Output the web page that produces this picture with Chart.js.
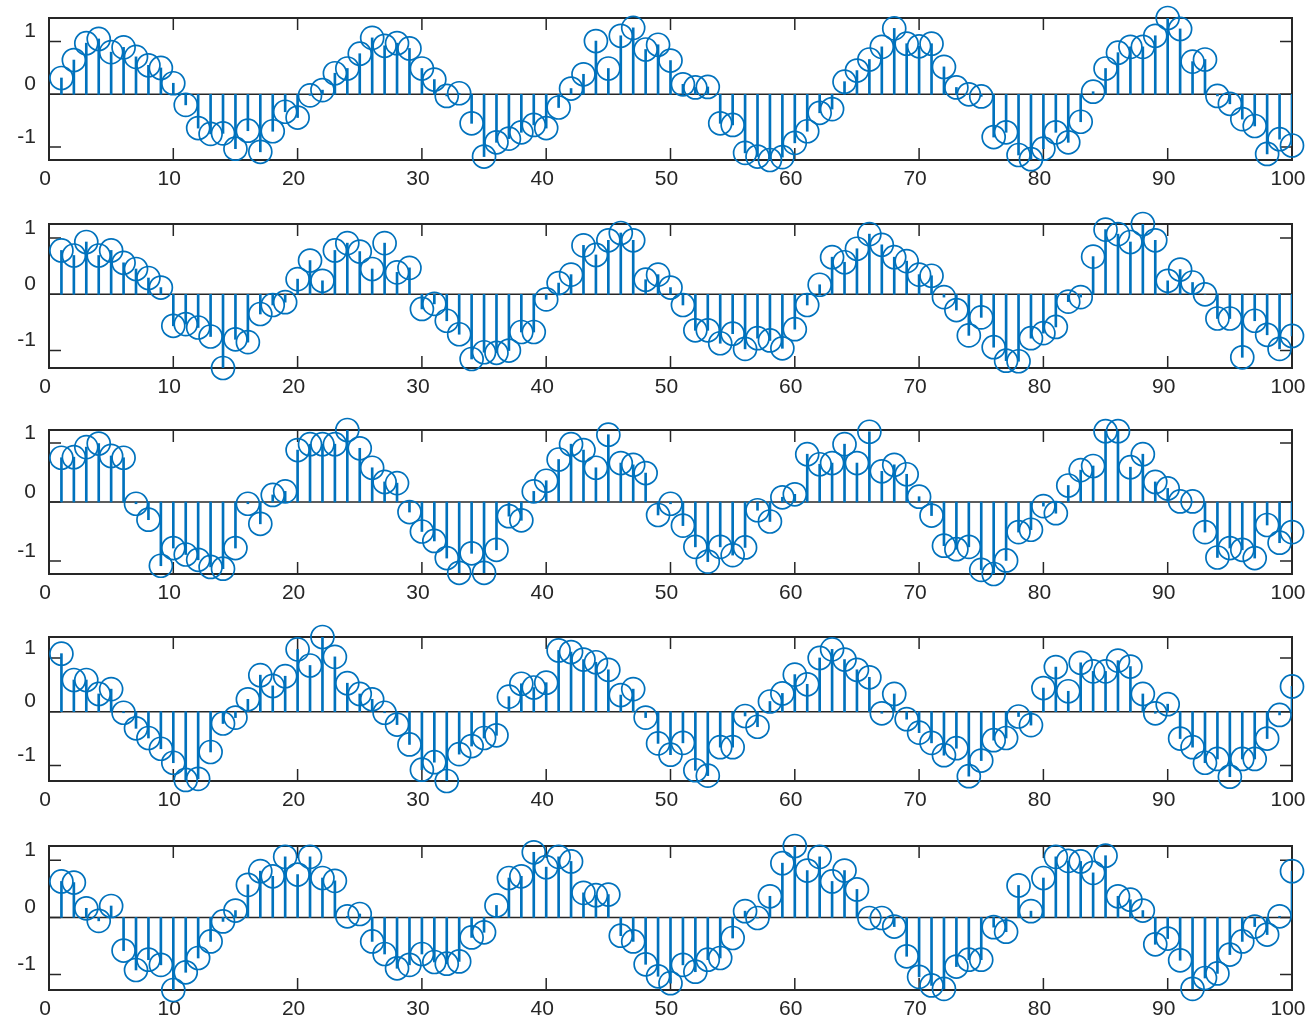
<!DOCTYPE html>
<html>
<head>
<meta charset="utf-8">
<script src="https://cdn.jsdelivr.net/npm/chart.js@4.4.1/dist/chart.umd.min.js"></script>
<style>
  body { margin: 0; background: #fff; }
  #wrap { position: relative; width: 1309px; height: 1022px; }
  .plot { position: absolute; left: 0; }
</style>
</head>
<body>
<div id="wrap"></div>
<script>
// sample index 1..100 (the x of every stem)
const xIndex = Array.from({ length: 100 }, (_, i) => i + 1);
const xTicks = [0, 10, 20, 30, 40, 50, 60, 70, 80, 90, 100];
const yTicks = [-1, 0, 1];

const series1 = [0.31, 0.65, 0.97, 1.05, 0.80, 0.89, 0.71, 0.55, 0.50, 0.21,
  -0.20, -0.64, -0.75, -0.74, -1.03, -0.69, -1.09, -0.70, -0.33, -0.44,
  -0.02, 0.08, 0.40, 0.49, 0.77, 1.07, 0.92, 0.97, 0.87, 0.49,
  0.28, -0.03, 0.02, -0.55, -1.18, -0.91, -0.84, -0.72, -0.58, -0.64,
  -0.25, 0.11, 0.38, 1.01, 0.49, 1.11, 1.26, 0.85, 0.94, 0.64,
  0.19, 0.13, 0.14, -0.55, -0.58, -1.11, -1.18, -1.245, -1.19, -0.92,
  -0.70, -0.35, -0.28, 0.24, 0.45, 0.66, 0.90, 1.25, 0.96, 0.91,
  0.96, 0.52, 0.13, 0.00, -0.04, -0.81, -0.72, -1.15, -1.23, -1.03,
  -0.72, -0.91, -0.52, 0.05, 0.49, 0.79, 0.90, 0.90, 1.11, 1.447,
  1.24, 0.62, 0.66, -0.03, -0.18, -0.47, -0.60, -1.13, -0.85, -0.97];

const series2 = [0.78, 0.69, 0.93, 0.69, 0.78, 0.56, 0.45, 0.29, 0.12, -0.56,
  -0.53, -0.59, -0.75, -1.31, -0.80, -0.85, -0.35, -0.19, -0.14, 0.27,
  0.60, 0.24, 0.78, 0.91, 0.76, 0.45, 0.91, 0.39, 0.47, -0.26,
  -0.17, -0.47, -0.71, -1.15, -1.03, -1.04, -1.00, -0.67, -0.67, -0.09,
  0.20, 0.35, 0.87, 0.70, 0.96, 1.09, 0.96, 0.26, 0.35, 0.12,
  -0.19, -0.64, -0.64, -0.87, -0.70, -0.97, -0.78, -0.82, -0.96, -0.62,
  -0.19, 0.17, 0.66, 0.57, 0.81, 1.07, 0.88, 0.66, 0.59, 0.35,
  0.33, -0.05, -0.28, -0.73, -0.41, -0.94, -1.18, -1.19, -0.78, -0.69,
  -0.58, -0.13, -0.05, 0.67, 1.15, 1.07, 0.93, 1.25, 0.96, 0.24,
  0.44, 0.21, 0.00, -0.43, -0.43, -1.12, -0.47, -0.72, -0.97, -0.74];

const series3 = [0.75, 0.76, 0.93, 0.99, 0.78, 0.75, -0.03, -0.30, -1.08, -0.78,
  -0.89, -0.98, -1.10, -1.13, -0.78, -0.03, -0.37, 0.12, 0.18, 0.88,
  0.98, 0.98, 0.98, 1.22, 0.91, 0.58, 0.34, 0.32, -0.17, -0.50,
  -0.66, -0.95, -1.20, -0.87, -1.20, -0.81, -0.24, -0.31, 0.18, 0.36,
  0.72, 0.98, 0.88, 0.58, 1.14, 0.66, 0.63, 0.49, -0.22, -0.03,
  -0.40, -0.76, -1.01, -0.76, -0.90, -0.77, -0.14, -0.33, 0.08, 0.13,
  0.81, 0.64, 0.66, 0.98, 0.66, 1.19, 0.52, 0.63, 0.47, 0.09,
  -0.23, -0.74, -0.80, -0.76, -1.15, -1.22, -0.99, -0.51, -0.47, -0.07,
  -0.19, 0.28, 0.54, 0.61, 1.20, 1.20, 0.59, 0.81, 0.34, 0.23,
  0.01, 0.01, -0.51, -0.94, -0.78, -0.81, -0.95, -0.39, -0.69, -0.51];

const series4 = [1.08, 0.59, 0.59, 0.33, 0.42, -0.02, -0.31, -0.49, -0.69, -0.95,
  -1.27, -1.25, -0.75, -0.22, -0.11, 0.23, 0.68, 0.48, 0.66, 1.16,
  0.86, 1.39, 1.02, 0.53, 0.33, 0.23, -0.02, -0.24, -0.61, -1.08,
  -0.94, -1.29, -0.79, -0.64, -0.49, -0.44, 0.28, 0.52, 0.45, 0.54,
  1.14, 1.11, 0.97, 0.92, 0.78, 0.31, 0.42, -0.11, -0.59, -0.80,
  -0.58, -1.09, -1.19, -0.66, -0.66, -0.08, -0.28, 0.19, 0.34, 0.69,
  0.51, 1.00, 1.16, 0.97, 0.78, 0.64, -0.03, 0.33, -0.14, -0.39,
  -0.58, -0.81, -0.68, -1.20, -0.91, -0.53, -0.49, -0.09, -0.25, 0.44,
  0.83, 0.38, 0.91, 0.75, 0.75, 0.95, 0.84, 0.33, -0.03, 0.14,
  -0.50, -0.66, -0.95, -0.88, -1.21, -0.88, -0.88, -0.50, -0.06, 0.47];

const series5 = [0.63, 0.61, 0.16, -0.06, 0.20, -0.58, -0.92, -0.74, -0.83, -1.27,
  -0.96, -0.71, -0.42, -0.07, 0.12, 0.57, 0.81, 0.72, 1.06, 0.75,
  1.06, 0.69, 0.64, 0.02, 0.06, -0.42, -0.64, -0.89, -0.83, -0.64,
  -0.78, -0.81, -0.77, -0.35, -0.26, 0.21, 0.69, 0.72, 1.14, 0.88,
  1.06, 0.98, 0.43, 0.39, 0.40, -0.32, -0.42, -0.82, -1.03, -1.15,
  -0.83, -0.95, -0.74, -0.71, -0.36, 0.11, -0.01, 0.37, 0.95, 1.25,
  0.82, 1.06, 0.63, 0.82, 0.49, -0.01, -0.01, -0.16, -0.68, -1.04,
  -1.19, -1.25, -0.86, -0.74, -0.74, -0.17, -0.25, 0.56, 0.11, 0.69,
  1.06, 0.99, 0.98, 0.78, 1.08, 0.37, 0.31, 0.12, -0.47, -0.37,
  -0.75, -1.25, -1.06, -0.98, -0.65, -0.42, -0.16, -0.30, 0.02, 0.81];

const allSeries = [series1, series2, series3, series4, series5];

// where each axes box sits on the page
const boxTops = [18, 224, 430, 637, 846];
const boxHeights = [142, 144, 144, 144, 144];

const STEM = '#0072BD';
const AXIS = '#262626';
const FONT = { family: '"Liberation Sans", Helvetica, Arial, sans-serif', size: 21 };

// MATLAB-like box, inward ticks and stem baseline
const axesPlugin = {
  id: 'matlabAxes',
  beforeDatasetsDraw(chart) {
    const { ctx, chartArea: a, scales: { x, y } } = chart;
    const tl = 12;
    ctx.save();
    ctx.strokeStyle = AXIS;
    ctx.lineWidth = 1.5;
    ctx.beginPath();
    xTicks.forEach(v => {
      const px = x.getPixelForValue(v);
      ctx.moveTo(px, a.bottom); ctx.lineTo(px, a.bottom - tl);
      ctx.moveTo(px, a.top); ctx.lineTo(px, a.top + tl);
    });
    yTicks.forEach(v => {
      const py = y.getPixelForValue(v);
      ctx.moveTo(a.left, py); ctx.lineTo(a.left + tl, py);
      ctx.moveTo(a.right, py); ctx.lineTo(a.right - tl, py);
    });
    ctx.stroke();
    // baseline at zero
    const y0 = y.getPixelForValue(0);
    ctx.beginPath();
    ctx.moveTo(a.left, y0); ctx.lineTo(a.right, y0);
    ctx.stroke();
    // box
    ctx.lineWidth = 2;
    ctx.strokeRect(a.left, a.top, a.right - a.left, a.bottom - a.top);
    ctx.restore();
  }
};

function makeStem(idx) {
  const values = allSeries[idx];
  const padTop = 18, axisH = 32, padBottom = 8;
  const h = padTop + boxHeights[idx] + axisH + padBottom;

  const div = document.createElement('div');
  div.className = 'plot';
  div.style.top = (boxTops[idx] - padTop) + 'px';
  const canvas = document.createElement('canvas');
  canvas.width = 1309;
  canvas.height = h;
  canvas.style.width = '1309px';
  canvas.style.height = h + 'px';
  div.appendChild(canvas);
  document.getElementById('wrap').appendChild(div);

  const pts = values.map((v, i) => ({ x: xIndex[i], y: v }));

  return new Chart(canvas.getContext('2d'), {
    type: 'bar',
    data: {
      datasets: [{
        type: 'bar',
        data: pts,
        backgroundColor: STEM,
        barThickness: 2,
        borderWidth: 0,
        order: 2
      }, {
        type: 'scatter',
        data: pts,
        showLine: false,
        pointStyle: 'circle',
        pointRadius: 11.5,
        pointBorderWidth: 1.7,
        pointBorderColor: STEM,
        pointBackgroundColor: 'rgba(0,0,0,0)',
        clip: false,
        order: 1
      }]
    },
    options: {
      responsive: false,
      animation: false,
      devicePixelRatio: 1,
      events: [],
      layout: { padding: { top: padTop, bottom: padBottom, left: 0, right: 17 } },
      plugins: { legend: { display: false }, tooltip: { enabled: false } },
      scales: {
        x: {
          type: 'linear',
          min: 0, max: 100,
          offset: false,
          grid: { display: false, drawTicks: false },
          border: { display: false },
          afterBuildTicks: s => { s.ticks = xTicks.map(v => ({ value: v })); },
          afterFit: s => { s.height = axisH; s.paddingLeft = 0; s.paddingRight = 0; },
          ticks: { font: FONT, color: AXIS, padding: 7, labelOffset: -4, maxRotation: 0, autoSkip: false }
        },
        y: {
          min: Math.min(...values),
          max: Math.max(...values),
          grid: { display: false, drawTicks: false },
          border: { display: false },
          afterBuildTicks: s => { s.ticks = yTicks.map(v => ({ value: v })); },
          afterFit: s => { s.width = 49; s.paddingTop = 0; s.paddingBottom = 0; },
          ticks: {
            font: FONT, color: AXIS, padding: 13, labelOffset: -10,
            callback: v => String(v)
          }
        }
      }
    },
    plugins: [axesPlugin]
  });
}

allSeries.forEach((_, i) => makeStem(i));
</script>
</body>
</html>
